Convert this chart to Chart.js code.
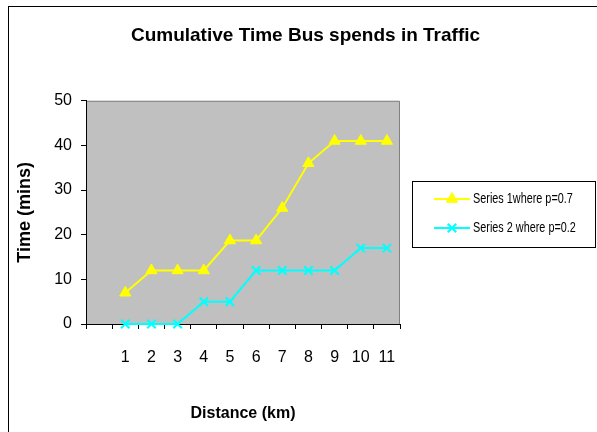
<!DOCTYPE html>
<html>
<head>
<meta charset="utf-8">
<script src="https://cdn.jsdelivr.net/npm/chart.js@4/dist/chart.umd.min.js"></script>
<style>
  html, body { margin: 0; padding: 0; background: #fff; }
  #wrap { width: 597px; height: 432px; }
</style>
</head>
<body>
<div id="wrap"><canvas id="chartContainer" width="597" height="432"></canvas></div>
<script>
// values
var distance = ['1','2','3','4','5','6','7','8','9','10','11'];
var series1 = [7, 12, 12, 12, 18.7, 18.7, 26, 36, 41, 41, 41];
var series2 = [0, 0, 0, 5, 5, 12, 12, 12, 12, 17, 17];
var yTicks = [0, 10, 20, 30, 40, 50];

var font = '"Liberation Sans", Arial, sans-serif';

// first slot of the axis is left empty, like the original
var labels = [''].concat(distance);

var plotBg = {
  id: 'plotBg',
  beforeDraw: function(chart){
    var ctx = chart.ctx, a = chart.chartArea;
    ctx.save();
    ctx.fillStyle = '#fff';
    ctx.fillRect(0, 0, chart.width, chart.height);
    ctx.strokeStyle = '#000';
    ctx.lineWidth = 1;
    ctx.strokeRect(8.5, 6.5, 800, 800);
    ctx.fillStyle = '#c0c0c0';
    ctx.fillRect(a.left, a.top, a.right - a.left, a.bottom - a.top);
    ctx.strokeStyle = '#808080';
    ctx.beginPath();
    ctx.moveTo(a.left, a.top + 0.5);
    ctx.lineTo(a.right - 0.5, a.top + 0.5);
    ctx.lineTo(a.right - 0.5, a.bottom);
    ctx.stroke();
    ctx.restore();
  }
};

var sideLegend = {
  id: 'sideLegend',
  afterDraw: function(chart){
    var ctx = chart.ctx;
    ctx.save();
    ctx.strokeStyle = '#000';
    ctx.lineWidth = 1;
    ctx.strokeRect(412.5, 181.5, 183, 66);
    var rows = [199, 228];
    chart.data.datasets.forEach(function(ds, i){
      var y = rows[i];
      ctx.strokeStyle = ds.borderColor;
      ctx.lineWidth = 2;
      ctx.beginPath();
      ctx.moveTo(434, y);
      ctx.lineTo(470, y);
      ctx.stroke();
      ctx.fillStyle = ds.pointBackgroundColor;
      ctx.strokeStyle = ds.borderColor;
      ctx.lineWidth = ds.pointBorderWidth;
      Chart.helpers.drawPoint(ctx, {pointStyle: ds.pointStyle, radius: ds.pointRadius, rotation: 0, borderWidth: ds.pointBorderWidth}, 452, y);
      // squeezed text like the original
      ctx.save();
      ctx.translate(473, y);
      ctx.scale(0.7, 1);
      ctx.fillStyle = '#000';
      ctx.font = '15.5px ' + font;
      ctx.textBaseline = 'middle';
      ctx.fillText(ds.label, 0, 0);
      ctx.restore();
    });
    ctx.restore();
  }
};

var ctx = document.getElementById('chartContainer').getContext('2d');
var myChart = new Chart(ctx, {
  type: 'line',
  data: {
    labels: labels,
    datasets: [{
      label: 'Series 1where p=0.7',
      data: [null].concat(series1),
      borderColor: '#ffff00',
      backgroundColor: '#ffff00',
      pointBackgroundColor: '#ffff00',
      pointStyle: 'triangle',
      pointRadius: 6.5,
      pointBorderWidth: 1,
      borderWidth: 2,
      tension: 0,
      clip: false
    },{
      label: 'Series 2 where p=0.2',
      data: [null].concat(series2),
      borderColor: '#00ffff',
      backgroundColor: '#00ffff',
      pointBackgroundColor: '#00ffff',
      pointStyle: 'crossRot',
      pointRadius: 6,
      pointBorderWidth: 2,
      borderWidth: 2,
      tension: 0,
      clip: false
    }]
  },
  options: {
    responsive: false,
    animation: false,
    events: [],
    layout: { padding: { left: 14, top: 0, right: 0, bottom: 0 } },
    plugins: {
      legend: { display: false },
      tooltip: { enabled: false },
      title: {
        display: true,
        text: 'Cumulative Time Bus spends in Traffic',
        color: '#000',
        font: { family: font, size: 19, weight: 'bold' },
        padding: { top: 24, bottom: 54 }
      }
    },
    scales: {
      x: {
        offset: true,
        grid: { offset: true, drawOnChartArea: false, tickLength: 5, color: '#000' },
        border: { color: '#000', width: 1 },
        ticks: { color: '#000', font: { family: font, size: 16 }, padding: 19, maxRotation: 0, autoSkip: false },
        title: {
          display: true,
          text: 'Distance (km)',
          color: '#000',
          font: { family: font, size: 16, weight: 'bold' },
          padding: { top: 10, bottom: 9 }
        },
        afterFit: function(s){ s.height = 108; }
      },
      y: {
        min: 0,
        max: 50,
        afterBuildTicks: function(s){ s.ticks = yTicks.map(function(v){ return {value: v}; }); },
        grid: { drawOnChartArea: false, tickLength: 5, color: '#000' },
        border: { color: '#000', width: 1 },
        ticks: { color: '#000', font: { family: font, size: 16 }, padding: 9 },
        title: {
          display: true,
          text: 'Time (mins)',
          color: '#000',
          font: { family: font, size: 18, weight: 'bold' },
          padding: { top: 0, bottom: 0 }
        },
        afterFit: function(s){ s.width = 72; }
      },
      // empty right-hand axis only keeps room for the legend box
      yRight: {
        position: 'right',
        display: true,
        grid: { display: false },
        border: { display: false },
        ticks: { display: false },
        afterFit: function(s){ s.width = 197; }
      }
    }
  },
  plugins: [plotBg, sideLegend]
});
</script>
</body>
</html>
